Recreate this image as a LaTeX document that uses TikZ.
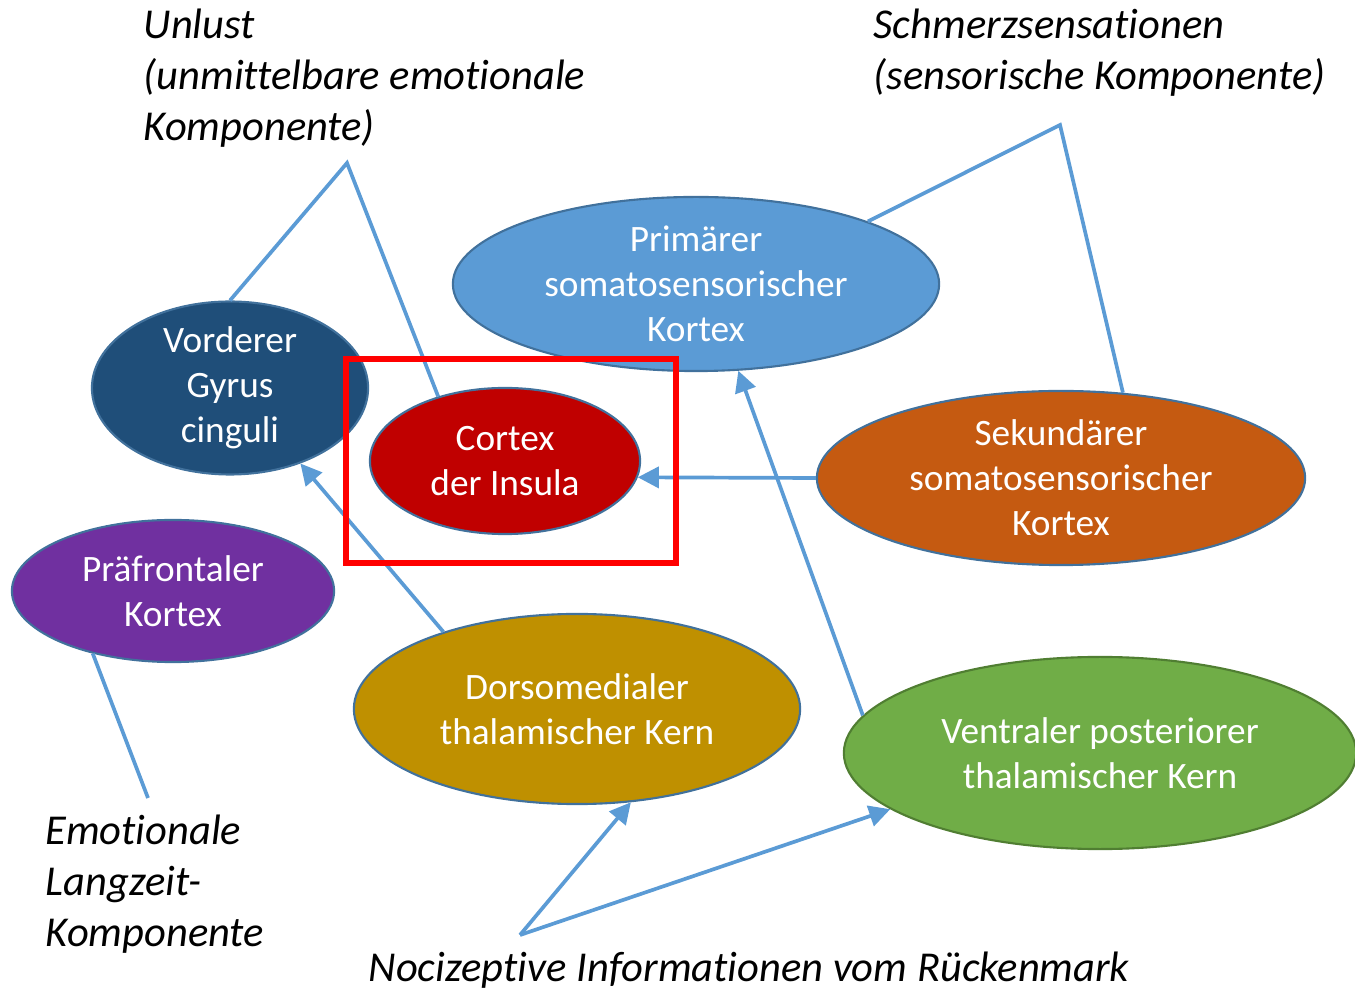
\documentclass[tikz,border=0pt]{standalone}
\usepackage{fontspec}
\setmainfont{Carlito}[Ligatures={NoCommon}]
\usetikzlibrary{shapes.geometric,arrows.meta}
\definecolor{linkblue}{HTML}{5B9BD5}
\definecolor{rimblue}{HTML}{41719C}
\definecolor{rimgreen}{HTML}{507E32}
\definecolor{cingcol}{HTML}{1F4E79}
\definecolor{inscol}{HTML}{C00000}
\definecolor{s1col}{HTML}{5B9BD5}
\definecolor{s2col}{HTML}{C55A11}
\definecolor{pfccol}{HTML}{7030A0}
\definecolor{mdcol}{HTML}{BF9000}
\definecolor{vpcol}{HTML}{70AD47}

\begin{document}
\begin{tikzpicture}[x=0.01cm,y=-0.01cm]
\tikzset{area/.style = {ellipse, draw=rimblue, line width=0.6pt, inner sep=0pt, text=white, align=center, font=\fontsize{10.6}{12.8}\selectfont}}
\tikzset{link/.style = {draw=linkblue, line width=1.05pt}}
\tikzset{pointer/.style = {link, -{Triangle[length=6pt,width=6pt]}}}
\tikzset{caption/.style = {anchor=west, align=left, inner sep=0pt, font=\fontsize{12.1}{14.5}\selectfont\itshape}}

\useasboundingbox (0,0) rectangle (1355,989);

% Hirnareale
\node[area, fill=cingcol, minimum width=2.76cm, minimum height=1.72cm] (cing) at (230,388) {Vorderer\\Gyrus\\cinguli};
\node[area, fill=inscol, minimum width=2.70cm, minimum height=1.46cm] (ins) at (505,461) {Cortex\\der Insula};
\node[area, fill=s1col, minimum width=4.86cm, minimum height=1.74cm] (s1) at (696,284) {Primärer\\somatosensorischer\\Kortex};
\node[area, fill=s2col, minimum width=4.88cm, minimum height=1.74cm] (s2) at (1061,478) {Sekundärer\\somatosensorischer\\Kortex};
\node[area, fill=pfccol, minimum width=3.22cm, minimum height=1.42cm] (pfc) at (173,591) {Präfrontaler\\Kortex};
\node[area, fill=mdcol, minimum width=4.46cm, minimum height=1.90cm] (md) at (577,709) {Dorsomedialer\\thalamischer Kern};
\node[area, fill=vpcol, draw=rimgreen, minimum width=5.12cm, minimum height=1.92cm] (vp) at (1100,753) {Ventraler posteriorer\\thalamischer Kern};

% Beschriftungen
\node[caption] (unlust) at (143,78) {Unlust\\(unmittelbare emotionale\\Komponente)};
\node[caption] (schmerz) at (873,53) {Schmerzsensationen\\(sensorische Komponente)};
\node[caption] (langzeit) at (45,884) {Emotionale\\Langzeit-\\Komponente};
\node[caption] (nozi) at (368,970) {Nocizeptive Informationen vom Rückenmark};

\coordinate (unlusttip) at (347,163);
\coordinate (schmerztip) at (1060,125);
\coordinate (langzeittip) at (148,798);
\coordinate (nozitip) at (520,935);

\draw[link] (cing.north) -- (unlusttip) -- (ins.136);
\draw[link] (s1.20) -- (schmerztip) -- (s2.54);
\draw[link] (pfc.218) -- (langzeittip);

\draw[pointer] (s2.west) -- (ins.-7);
\draw[pointer] (md.150) -- (cing.-47);
\draw[pointer] (vp.171) -- (s1.-64);
\draw[pointer] (nozitip) -- (md.-60);
\draw[pointer] (nozitip) -- (vp.195);

% Markierung
\draw[red, line width=1.6pt] (346,359) rectangle (676,563);

\end{tikzpicture}
\end{document}
